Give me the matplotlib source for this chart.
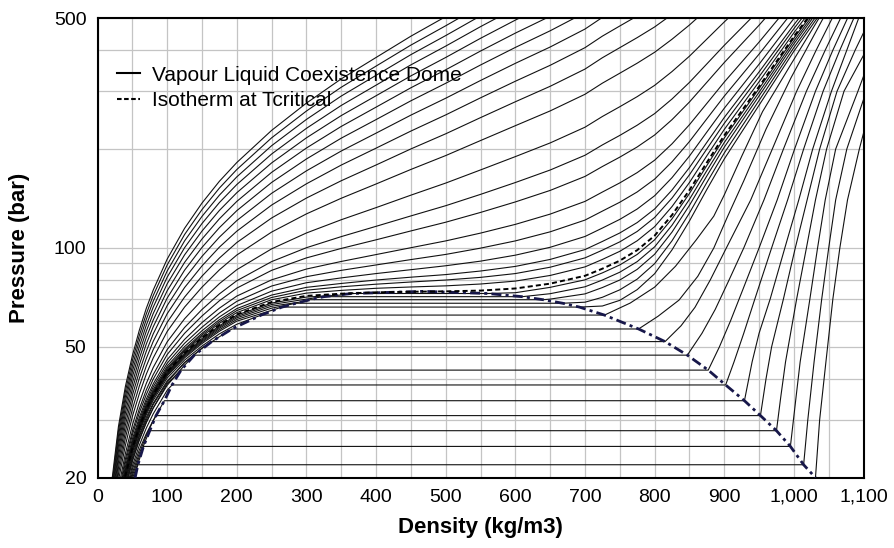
import matplotlib
matplotlib.use("Agg")
import matplotlib.pyplot as plt
from matplotlib.lines import Line2D
from matplotlib.ticker import NullLocator

plt.rcParams['font.family'] = ['Liberation Sans', 'DejaVu Sans']

# supercritical isotherms: pressure (bar) read at these densities (kg/m3)
rho_grid = [20, 30, 40, 50, 60, 70, 80, 100, 125, 150, 175, 200, 250, 300, 350, 400, 450, 500,
            550, 600, 650, 700, 725, 750, 775, 800, 825, 850, 875, 900, 950, 1000, 1050, 1100]

super_p = [
    [19.1, 28.6, 37.9, 47.0, 56.2, 65.5, 74.5, 92.5, 114.8, 137.0, 159.6, 182.0, 228.0, 276.0,
     327.1, 380.0, 441.1, 506],
    [18.5, 27.7, 36.6, 45.4, 54.2, 63.0, 71.7, 88.8, 109.9, 130.9, 152.2, 173.3, 216.4, 261.1,
     308.5, 357.7, 414.4, 474.5, 545.7],
    [17.9, 26.8, 35.3, 43.7, 52.2, 60.6, 68.9, 85.1, 105.1, 124.8, 144.8, 164.6, 204.8, 246.2,
     290.0, 335.3, 387.6, 443.0, 508.7],
    [17.4, 25.9, 34.1, 42.1, 50.1, 58.2, 66.1, 81.5, 100.2, 118.7, 137.5, 156.0, 193.2, 231.3,
     271.5, 313.0, 360.8, 411.5, 471.6, 536.8],
    [16.8, 25.0, 32.8, 40.5, 48.1, 55.8, 63.2, 77.8, 95.3, 112.6, 130.1, 147.3, 181.5, 216.4,
     252.9, 290.6, 334.0, 380.0, 434.6, 493.7, 556.5],
    [16.2, 24.1, 31.5, 38.8, 46.1, 53.4, 60.4, 74.1, 90.4, 106.5, 122.7, 138.6, 169.9, 201.5,
     234.4, 268.3, 307.3, 348.6, 397.5, 450.7, 507.3],
    [15.6, 23.2, 30.2, 37.2, 44.1, 51.0, 57.6, 70.4, 85.6, 100.4, 115.3, 129.9, 158.3, 186.6,
     215.9, 245.9, 280.5, 317.1, 360.5, 407.7, 458.1, 520.4],
    [15.0, 22.3, 28.9, 35.6, 42.1, 48.5, 54.8, 66.8, 80.7, 94.3, 107.9, 121.2, 146.7, 171.7,
     197.3, 223.6, 253.7, 285.6, 323.4, 364.7, 408.9, 463.7, 503.2],
    [14.4, 21.4, 27.6, 34.0, 40.1, 46.1, 52.0, 63.1, 75.8, 88.2, 100.6, 112.5, 135.1, 156.8,
     178.8, 201.3, 226.9, 254.1, 286.4, 321.7, 359.7, 407.0, 441.3, 473.8, 508.2],
    [13.9, 20.5, 26.4, 32.3, 38.0, 43.7, 49.1, 59.4, 70.9, 82.1, 93.2, 103.9, 123.4, 141.9,
     160.2, 178.9, 200.2, 222.6, 249.3, 278.6, 310.5, 350.3, 379.3, 407.0, 436.7, 470.6, 513.8],
    [13.3, 19.6, 25.1, 30.7, 36.0, 41.3, 46.3, 55.7, 66.1, 76.0, 85.8, 95.2, 111.8, 127.0,
     141.7, 156.6, 173.4, 191.1, 212.3, 235.6, 261.3, 293.6, 317.4, 340.3, 365.1, 394.1, 431.8,
     477.0, 532.5],
    [12.7, 18.6, 23.7, 28.9, 33.9, 38.7, 43.3, 51.8, 60.9, 69.4, 77.9, 85.9, 99.4, 111.1,
     121.9, 132.7, 144.8, 157.6, 172.8, 189.7, 208.8, 233.1, 251.3, 269.1, 288.8, 312.5, 344.3,
     383.4, 432.2, 487.3, 613.2],
    [12.2, 17.9, 22.8, 27.7, 32.4, 37.0, 41.2, 49.1, 57.3, 65.0, 72.5, 79.5, 90.9, 100.2,
     108.3, 116.4, 125.2, 134.5, 145.6, 158.2, 172.7, 191.5, 205.9, 220.1, 236.4, 256.4, 284.1,
     319.1, 363.2, 413.6, 529.6],
    [12.0, 17.5, 22.2, 27.0, 31.5, 35.8, 39.9, 47.4, 55.0, 62.1, 69.1, 75.5, 85.5, 93.3,
     99.7, 105.9, 112.7, 119.8, 128.3, 138.1, 149.7, 165.1, 177.0, 189.0, 203.0, 220.7, 245.8,
     278.1, 319.3, 366.7, 476.4, 628.3],
    [11.7, 17.1, 21.6, 26.2, 30.5, 34.7, 38.6, 45.7, 52.7, 59.3, 65.6, 71.4, 80.0, 86.3,
     91.0, 95.5, 100.2, 105.1, 111.0, 118.0, 126.8, 138.6, 148.0, 157.8, 169.6, 185.0, 207.5,
     237.2, 275.4, 319.8, 423.2, 568.1],
    [11.5, 16.8, 21.2, 25.7, 29.9, 34.0, 37.8, 44.6, 51.3, 57.4, 63.4, 68.8, 76.6, 81.8,
     85.5, 88.8, 92.2, 95.6, 99.9, 105.1, 112.0, 121.6, 129.5, 137.8, 148.1, 162.0, 182.9,
     210.8, 247.2, 289.7, 389.0, 529.4],
    [11.4, 16.6, 20.9, 25.4, 29.4, 33.4, 37.1, 43.7, 50.1, 56.0, 61.7, 66.8, 73.9, 78.4,
     81.1, 83.6, 85.9, 88.3, 91.2, 95.1, 100.5, 108.4, 115.0, 122.2, 131.4, 144.2, 163.7,
     190.4, 225.3, 266.2, 362.4, 499.3, 676.9],
    [11.3, 16.5, 20.7, 25.1, 29.1, 33.0, 36.6, 43.1, 49.3, 55.0, 60.5, 65.4, 71.9, 75.9,
     78.0, 79.9, 81.5, 83.0, 85.1, 87.9, 92.3, 98.9, 104.7, 111.1, 119.5, 131.4, 150.1,
     175.7, 209.6, 249.5, 343.4, 477.8, 652.7],
    [11.2, 16.4, 20.5, 24.9, 28.9, 32.8, 36.4, 42.7, 48.8, 54.4, 59.7, 64.5, 70.7, 74.4,
     76.2, 77.6, 78.8, 79.9, 81.4, 83.6, 87.4, 93.3, 98.5, 104.4, 112.3, 123.8, 141.9,
     167.0, 200.2, 239.4, 332.0, 464.9, 638.1],
    [11.2, 16.3, 20.4, 24.8, 28.7, 32.5, 36.1, 42.3, 48.4, 53.8, 59.0, 63.6, 69.6, 72.9,
     74.3, 75.4, 76.1, 76.7, 77.7, 79.3, 82.5, 87.6, 92.3, 97.7, 105.2, 116.1, 133.7,
     158.2, 190.8, 229.4, 320.6, 452.0, 623.6],
]

# critical isotherm
crit_p = [11.1, 16.2, 20.3, 24.6, 28.5, 32.3, 35.8, 42.0, 47.9, 53.2, 58.3, 62.8, 68.5, 71.5,
          72.6, 73.3, 73.6, 73.8, 74.2, 75.3, 77.9, 82.3, 86.5, 91.5, 98.5, 109, 126, 150,
          182, 220, 310, 440, 610, 840]
crit_rho = 468
crit_pres = 73.8

# subcritical isotherms: saturation pressure and dome densities
sat_p = [20, 21.9, 24.9, 27.8, 30.9, 34.3, 38.3, 42.5, 47.2, 51.9, 56.7, 62.5, 66.1, 67.9, 69.6, 71.1, 72.7]
sat_rho_v = [54, 58, 66, 75, 84, 96, 107, 120, 139, 164, 193, 235, 265, 285, 305, 325, 365]
sat_rho_l = [1031, 1014, 995, 975, 952, 929, 902, 877, 847, 815, 777, 728, 692, 668, 640, 610, 560]

# vapour branches, pressure at these densities
vap_grid = [30, 40, 50, 60, 70, 80, 100, 125, 150, 175, 200, 250, 300, 350]
vap_p = [
    [13.2, 16.0, 19.1],
    [13.4, 16.3, 19.4],
    [13.6, 16.6, 19.9, 22.7],
    [13.85, 17.0, 20.3, 23.2, 26.3],
    [14.1, 17.3, 20.7, 23.7, 26.9, 29.8],
    [14.3, 17.6, 21.2, 24.3, 27.2, 29.9],
    [14.6, 18.0, 21.7, 25.1, 28.3, 31.3, 36.9],
    [14.9, 18.5, 22.4, 26.0, 29.4, 32.6, 38.6],
    [15.1, 18.7, 22.6, 26.2, 29.5, 32.6, 38.2, 44.0],
    [15.3, 19.0, 23.0, 26.7, 30.0, 33.4, 39.0, 44.8, 49.6],
    [15.5, 19.3, 23.4, 27.0, 30.5, 33.7, 39.4, 44.8, 49.5, 53.7],
    [15.8, 19.7, 23.8, 27.5, 31.1, 34.4, 40.2, 45.6, 50.3, 54.8, 58.6],
    [15.9, 19.9, 24.1, 27.8, 31.5, 34.9, 40.8, 46.3, 51.2, 55.8, 59.9, 64.6],
    [16.0, 20.0, 24.2, 28.0, 31.7, 35.1, 41.1, 46.7, 51.7, 56.4, 60.6, 65.6],
    [16.0, 20.1, 24.3, 28.2, 31.9, 35.3, 41.4, 47.1, 52.1, 57.0, 61.3, 66.5, 68.9],
    [16.1, 20.2, 24.4, 28.3, 32.0, 35.5, 41.6, 47.4, 52.5, 57.5, 61.9, 67.3, 69.9],
    [16.2, 20.25, 24.5, 28.4, 32.2, 35.7, 41.9, 47.7, 53.0, 58.0, 62.5, 68.0, 70.9, 71.9],
]

# liquid branches above the dome
liq_rho = [
    [1037, 1046, 1056, 1066, 1077, 1094, 1106],
    [1020, 1029, 1040, 1050, 1060, 1076, 1104],
    [1003, 1009, 1023, 1034, 1045, 1060, 1092, 1114],
    [981, 988, 1004, 1018, 1031, 1047, 1072, 1104],
    [960, 968, 985, 1002, 1019, 1037, 1062, 1088, 1110],
    [940, 950, 966, 987, 1007, 1027, 1054, 1076, 1093],
    [914, 928, 944, 968, 991, 1014, 1042, 1066, 1086],
    [893, 909, 927, 950, 976, 1001, 1031, 1056, 1077],
    [868, 887, 907, 928, 957, 985, 1018, 1045, 1067],
    [838, 858, 880, 903, 938, 969, 1004, 1032, 1055],
    [805, 835, 862, 885, 905, 928, 960, 996, 1042],
    [765, 800, 830, 860, 885, 900, 925, 955, 995, 1036],
    [725, 750, 775, 800, 825, 850, 875, 900, 950, 1000, 1050],
    [700, 725, 750, 775, 800, 825, 850, 875, 900, 950, 1000, 1050],
    [650, 700, 725, 750, 775, 800, 825, 850, 875, 900, 950, 1000, 1050],
    [650, 700, 725, 750, 775, 800, 825, 850, 875, 900, 950, 1000, 1050],
    [600, 650, 700, 725, 750, 775, 800, 825, 850, 875, 900, 950, 1000, 1050],
]
liq_p = [
    [30, 45, 70, 100, 140, 200, 250],
    [30, 45, 70, 100, 140, 200, 300],
    [35, 45, 70, 100, 140, 200, 300, 400],
    [35, 45, 70, 100, 140, 200, 300, 400],
    [40, 50, 70, 100, 140, 200, 300, 400, 500],
    [45, 55, 70, 100, 140, 200, 300, 400, 500],
    [45, 55, 70, 100, 140, 200, 300, 400, 500],
    [50, 60, 75, 100, 140, 200, 300, 400, 500],
    [55, 65, 80, 100, 140, 200, 300, 400, 500],
    [58, 66, 80, 100, 140, 200, 300, 400, 500],
    [62, 69.4, 82, 100, 125, 160, 230, 330, 500],
    [68, 76, 88, 106, 125, 145, 190, 260, 360, 500],
    [66.6, 69.3, 74.7, 83.5, 98.7, 120.8, 150.7, 186.5, 272, 397, 561.5],
    [68.4, 70.8, 74.6, 80.4, 89.6, 105.2, 127.8, 158.2, 194.5, 281.1, 407.3, 573.1],
    [69.9, 72.5, 75.8, 79.9, 86.1, 95.7, 111.8, 134.8, 165.7, 202.6, 290.2, 417.6, 584.8],
    [72.6, 76.2, 79.9, 84.4, 90.9, 100.8, 117.3, 140.6, 172, 209.3, 297.8, 426.2, 594.5],
    [73.1, 75.9, 80.0, 84.0, 88.8, 95.6, 105.9, 122.7, 146.5, 178.2, 216, 305.4, 434.8, 604.2],
]

x_ticks = list(range(0, 1101, 50))
y_ticks = [20, 30, 40, 50, 60, 70, 80, 90, 100, 200, 300, 400, 500]
y_labels = ['20', '', '', '50', '', '', '', '', '100', '', '', '', '500']

fig = plt.figure(figsize=(8.94, 5.48), dpi=100)
ax = fig.add_axes([0.1091, 0.1283, 0.8568, 0.8383])

iso_col = '#111111'
for pp in super_p:
    ax.plot(rho_grid[:len(pp)], pp, color=iso_col, lw=0.8)

for i in range(len(sat_p)):
    vp = vap_p[i]
    xs = vap_grid[:len(vp)] + [sat_rho_v[i], sat_rho_l[i]] + liq_rho[i]
    ys = vp + [sat_p[i], sat_p[i]] + liq_p[i]
    ax.plot(xs, ys, color=iso_col, lw=0.8)

# coexistence dome
dome_x = sat_rho_v + [crit_rho] + sat_rho_l[::-1]
dome_y = sat_p + [crit_pres] + sat_p[::-1]
ax.plot(dome_x, dome_y, color='#17174a', lw=2.0, ls=(0, (3.6, 1.5, 1.1, 1.5)), zorder=4)

ax.plot(rho_grid, crit_p, color='black', lw=1.4, ls=(0, (2.6, 1.6)), zorder=5)

ax.set_yscale('log')
ax.set_xlim(0, 1100)
ax.set_ylim(20, 500)
ax.set_yticks(y_ticks)
ax.set_yticklabels(y_labels)
ax.yaxis.set_minor_locator(NullLocator())
ax.set_xticks(x_ticks)
ax.set_xticklabels([f"{v:,}" if v % 100 == 0 else '' for v in x_ticks])
ax.tick_params(length=0, labelsize=14, pad=8)
ax.grid(True, color='#c4c4c4', lw=0.9)
ax.set_axisbelow(True)
for s in ax.spines.values():
    s.set_linewidth(1.5)

ax.set_xlabel('Density (kg/m3)', fontsize=16, fontweight='bold', labelpad=8)
ax.set_ylabel('Pressure (bar)', fontsize=16, fontweight='bold', labelpad=17)

handles = [Line2D([], [], color='black', lw=1.5),
           Line2D([], [], color='black', lw=1.5, ls=(0, (2.2, 1.2)))]
ax.legend(handles, ['Vapour Liquid Coexistence Dome', 'Isotherm at Tcritical'],
          loc='upper left', bbox_to_anchor=(0.026, 0.897), frameon=False, fontsize=15,
          handlelength=1.1, handletextpad=0.55, labelspacing=0.3, borderpad=0, borderaxespad=0)

fig.savefig('out.png', dpi=100)
